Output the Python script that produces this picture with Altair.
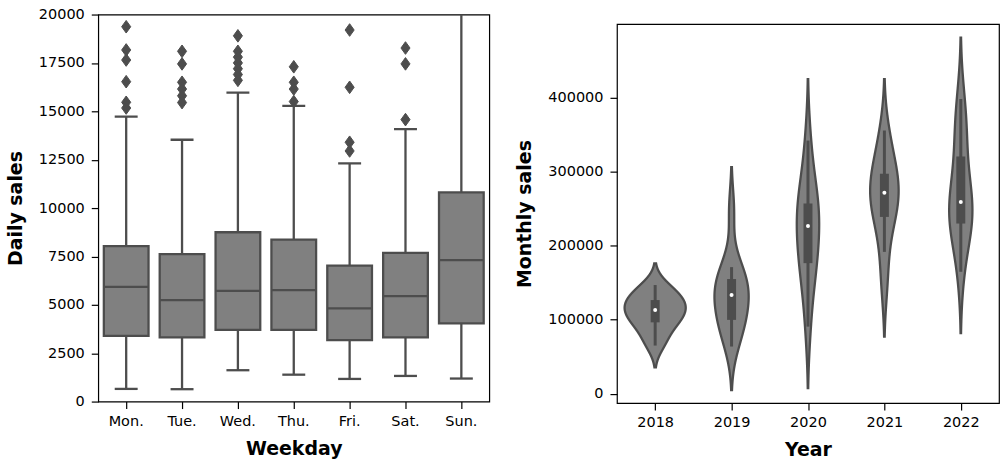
import altair as alt
import pandas as pd

# ---- Daily sales by weekday: box-plot statistics -------------------------
weekdays = ["Mon.", "Tue.", "Wed.", "Thu.", "Fri.", "Sat.", "Sun."]
whisker_low = [655, 640, 1620, 1390, 1170, 1325, 1190]
quartile_1 = [3400, 3320, 3700, 3700, 3180, 3320, 4040]
medians = [5930, 5240, 5720, 5760, 4815, 5450, 7305]
quartile_3 = [8030, 7615, 8750, 8370, 7030, 7680, 10810]
whisker_high = [14730, 13530, 15965, 15280, 12305, 14075, 20900]

# Days beyond the whiskers
outliers_mon = [19370, 18170, 17650, 16530, 15465, 15170]
outliers_tue = [18100, 17450, 16500, 16150, 15800, 15450]
outliers_wed = [18900, 18100, 17800, 17500, 17200, 16900, 16600]
outliers_thu = [17300, 16500, 16150, 15500]
outliers_fri = [19200, 16240, 13400, 12950]
outliers_sat = [18270, 17450, 14570]
outliers_sun = []

# ---- Monthly sales per year ------------------------------------------------
years = [2018, 2019, 2020, 2021, 2022]
sales_2018 = [65000, 78000, 93000, 97500, 104000, 110000, 116000, 120000, 125000, 131000, 138000, 146800]
sales_2019 = [63700, 85000, 97000, 100600, 118000, 130000, 136600, 143000, 152000, 163600, 171000, 247700]
sales_2020 = [90600, 145000, 170000, 178500, 200000, 220000, 233400, 245000, 252000, 272000, 290000, 342000]
sales_2021 = [146800, 191600, 235000, 240100, 255000, 268000, 275200, 283000, 293000, 309800, 325000, 355600]
sales_2022 = [164700, 215000, 225000, 231500, 245000, 255000, 263000, 280000, 310000, 352000, 360000, 398200]

FILL = "#808080"
LINE = "#4d4d4d"
FONT = "DejaVu Sans"

# ---- tables ----------------------------------------------------------------
box_df = pd.DataFrame({
    "weekday": weekdays,
    "lo": whisker_low,
    "q1": quartile_1,
    "med": medians,
    "q3": quartile_3,
    "hi": whisker_high,
})

flier_lists = [outliers_mon, outliers_tue, outliers_wed, outliers_thu,
               outliers_fri, outliers_sat, outliers_sun]
flier_df = pd.DataFrame(
    [{"weekday": d, "sales": v} for d, vals in zip(weekdays, flier_lists) for v in vals]
)

year_lists = [sales_2018, sales_2019, sales_2020, sales_2021, sales_2022]
monthly_df = pd.DataFrame(
    [{"year": y, "sales": v} for y, vals in zip(years, year_lists) for v in vals]
)

# ---- left panel: box plot ---------------------------------------------------
day_x = alt.X(
    "weekday:N",
    sort=weekdays,
    scale=alt.Scale(domain=weekdays, paddingInner=0, paddingOuter=0),
    axis=alt.Axis(title="Weekday", labelAngle=0),
)


def day_y(field):
    return alt.Y(
        field,
        scale=alt.Scale(domain=[0, 20000], nice=False),
        axis=alt.Axis(values=list(range(0, 20001, 2500)), format="d", title="Daily sales"),
    )


box_base = alt.Chart(box_df)
whiskers = box_base.mark_rule(color=LINE, strokeWidth=2.3, clip=True).encode(
    x=day_x, y=day_y("lo:Q"), y2="hi:Q"
)
boxes = box_base.mark_bar(
    width=alt.RelativeBandSize(0.8), fill=FILL, stroke=LINE, strokeWidth=2.3, clip=True
).encode(x=day_x, y=day_y("q1:Q"), y2="q3:Q")
median_ticks = box_base.mark_tick(color=LINE, size=44, thickness=2.3, opacity=1).encode(
    x=day_x, y=day_y("med:Q")
)
caps_low = box_base.mark_tick(color=LINE, size=23, thickness=2.3, opacity=1).encode(
    x=day_x, y=day_y("lo:Q")
)
caps_high = box_base.mark_tick(color=LINE, size=23, thickness=2.3, opacity=1, clip=True).encode(
    x=day_x, y=day_y("hi:Q")
)
fliers = alt.Chart(flier_df).mark_point(
    shape="M0,-1L0.72,0L0,1L-0.72,0Z",
    size=160, filled=True, fill=LINE, stroke=LINE, strokeWidth=1, opacity=1,
).encode(x=day_x, y=day_y("sales:Q"))

left = alt.layer(whiskers, boxes, median_ticks, caps_low, caps_high, fliers).properties(
    width=392, height=388
)

# ---- right panel: violin plot -------------------------------------------------
year_scale = alt.Scale(domain=[2017.5, 2022.5], nice=False, zero=False)
sales_scale = alt.Scale(domain=[-12700, 499500], nice=False, zero=False)


def year_x(field):
    return alt.X(field, scale=year_scale, axis=alt.Axis(values=years, format="d", title="Year"))


def sales_y(field):
    return alt.Y(
        field,
        scale=sales_scale,
        axis=alt.Axis(values=[0, 100000, 200000, 300000, 400000], format="d", title="Monthly sales"),
    )


# Gaussian KDE per year (Scott bandwidth), extended two bandwidths past the data,
# all violins scaled by the largest density so they share one area.
violins = (
    alt.Chart(monthly_df)
    .transform_joinaggregate(lo="min(sales)", sd="stdev(sales)", n="count()", groupby=["year"])
    .transform_calculate(bw="datum.sd * pow(datum.n, -0.2)")
    .transform_calculate(z="(datum.sales - datum.lo) / datum.bw")
    .transform_joinaggregate(zmax="max(z)", groupby=["year"])
    .transform_density(
        "z", as_=["z", "dens"], groupby=["year", "lo", "bw", "zmax"],
        bandwidth=1, extent=[-2, 9], steps=600,
    )
    .transform_filter("datum.z <= datum.zmax + 2")
    .transform_calculate(sales="datum.lo + datum.z * datum.bw", pdf="datum.dens / datum.bw")
    .transform_joinaggregate(peak="max(pdf)")
    .transform_calculate(
        left="datum.year - 0.4 * datum.pdf / datum.peak",
        right="datum.year + 0.4 * datum.pdf / datum.peak",
    )
    .mark_area(orient="horizontal", fill=FILL, stroke=LINE, strokeWidth=2.3, opacity=1)
    .encode(y=sales_y("sales:Q"), x=year_x("left:Q"), x2="right:Q", detail="year:N")
)

fences = (
    alt.Chart(monthly_df)
    .transform_joinaggregate(q1="q1(sales)", q3="q3(sales)", groupby=["year"])
    .transform_filter(
        "datum.sales >= datum.q1 - 1.5 * (datum.q3 - datum.q1) && "
        "datum.sales <= datum.q3 + 1.5 * (datum.q3 - datum.q1)"
    )
    .transform_aggregate(lo="min(sales)", hi="max(sales)", groupby=["year"])
    .mark_rule(color=LINE, strokeWidth=3)
    .encode(x=year_x("year:Q"), y=sales_y("lo:Q"), y2="hi:Q")
)

stats = alt.Chart(monthly_df).transform_aggregate(
    q1="q1(sales)", q3="q3(sales)", med="median(sales)", groupby=["year"]
)
iqr_bars = stats.mark_rule(color=LINE, strokeWidth=9).encode(
    x=year_x("year:Q"), y=sales_y("q1:Q"), y2="q3:Q"
)
median_dots = stats.mark_circle(color="white", size=16, opacity=1).encode(
    x=year_x("year:Q"), y=sales_y("med:Q")
)

right = alt.layer(violins, fences, iqr_bars, median_dots).properties(width=383, height=380)

spacer = (
    alt.Chart(pd.DataFrame({"v": [0]}))
    .mark_point(opacity=0)
    .encode(x=alt.value(0), y=alt.value(0))
    .properties(width=383, height=1, view=alt.ViewBackground(stroke="transparent"))
)

right_col = alt.vconcat(spacer, right, spacing=4.5)

chart = (
    alt.hconcat(left, right_col, spacing=25)
    .properties(padding={"left": 5.5, "top": 5, "right": 1, "bottom": 0})
    .configure(font=FONT, background="white")
    .configure_view(stroke="black", strokeWidth=1.2)
    .configure_axis(
        labelFont=FONT, titleFont=FONT, labelFontSize=14.5, titleFontSize=19,
        titleFontWeight="bold", labelColor="black", titleColor="black",
        tickColor="black", tickSize=7, tickWidth=1.2, domain=False, grid=False,
    )
    .configure_axisX(labelPadding=5.5, titlePadding=12)
    .configure_axisY(labelPadding=7, titlePadding=13)
)

chart.save("out.html", embed_options={"renderer": "svg", "actions": False})
